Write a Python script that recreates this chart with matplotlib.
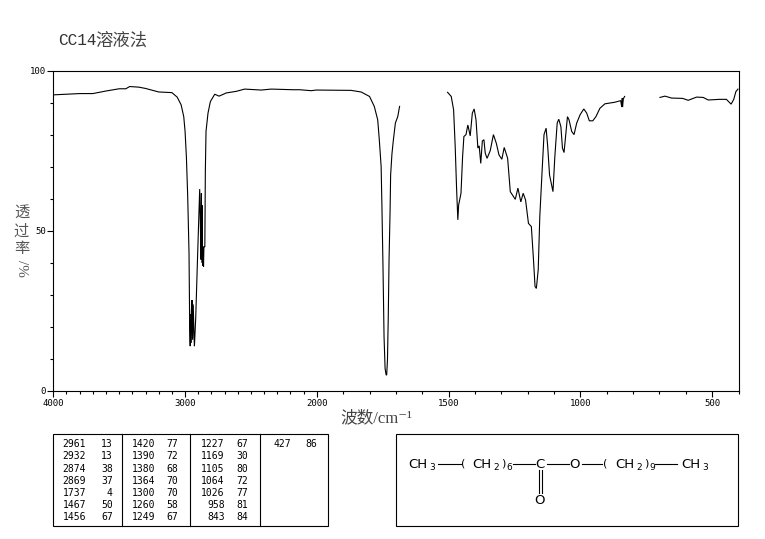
import matplotlib
matplotlib.use("Agg")
import matplotlib.pyplot as plt
import numpy as np
from matplotlib.patches import Rectangle

# --------------------------
# DATA
# --------------------------
# first piece of the trace, 4000 to 1686 cm-1
wn_a = [4000, 3900, 3800, 3700, 3600, 3500, 3450, 3420, 3350, 3300, 3200, 3100, 3060, 3030,
        3010, 3000, 2990, 2980, 2970, 2965, 2961, 2958, 2956, 2952, 2947, 2943, 2938, 2932, 2929,
        2919, 2909, 2899, 2889, 2884, 2879, 2876, 2874, 2872, 2870, 2868, 2866, 2863, 2860,
        2857, 2854, 2850, 2846, 2841, 2826, 2808, 2775, 2742, 2687, 2611, 2548, 2422, 2346,
        2182, 2130, 2043, 2005, 1870, 1832, 1800, 1782, 1769, 1763, 1756, 1753, 1749, 1745,
        1741, 1737, 1735, 1732, 1729, 1726, 1722, 1720, 1715, 1710, 1702, 1693, 1686]
t_a = [92.4, 92.6, 92.8, 92.8, 93.6, 94.3, 94.3, 95.0, 94.8, 94.4, 93.3, 93.1, 91.7, 89.3,
       85.6, 81.0, 73.1, 60.7, 43.0, 20.0, 14.0, 24.0, 15.0, 25.0, 28.4, 16.0, 27.0, 17.0, 14.0,
       23.0, 36.7, 50.0, 63.0, 52.0, 41.0, 61.7, 42.0, 58.0, 40.0, 45.0, 39.0, 45.0, 38.8,
       45.0, 45.0, 45.0, 69.0, 81.0, 86.7, 90.3, 92.6, 92.0, 93.0, 93.5, 94.2, 93.9, 94.2,
       94.0, 94.0, 93.7, 93.9, 93.8, 93.3, 91.9, 88.8, 84.6, 78.4, 70.0, 57.5, 38.8, 17.0,
       7.0, 5.0, 5.0, 9.7, 23.0, 41.0, 56.5, 67.4, 74.0, 78.0, 83.6, 85.6, 88.8]

# second piece, 1504 to 832 cm-1
wn_b = [1504, 1490, 1481, 1475, 1470, 1465, 1462, 1453, 1447, 1442, 1434, 1427, 1418, 1410,
        1403, 1396, 1389, 1384, 1378, 1372, 1366, 1361, 1354, 1342, 1330, 1319, 1309, 1298,
        1289, 1276, 1266, 1247, 1237, 1226, 1217, 1208, 1197, 1186, 1178, 1172, 1167, 1160,
        1154, 1145, 1138, 1130, 1124, 1117, 1104, 1097, 1088, 1082, 1074, 1068, 1062, 1055,
        1049, 1043, 1033, 1024, 1014, 1001, 987, 976, 966, 953, 941, 926, 907, 869, 847,
        843, 841, 840, 837, 832]
t_b = [93.2, 91.9, 87.7, 76.3, 63.8, 53.4, 58.0, 61.7, 73.0, 79.4, 80.0, 83.0, 79.6, 86.7,
       88.0, 84.6, 75.8, 76.5, 71.0, 78.0, 78.4, 74.2, 72.6, 75.0, 80.0, 77.3, 73.7, 72.3,
       76.0, 72.6, 62.2, 59.8, 63.3, 59.0, 61.7, 59.6, 52.3, 51.3, 41.0, 32.6, 32.0, 37.8,
       54.4, 69.0, 80.0, 82.0, 76.3, 67.4, 62.2, 73.0, 83.6, 84.8, 82.5, 75.8, 74.4, 80.4,
       85.6, 84.6, 81.0, 80.0, 83.6, 86.2, 88.0, 86.7, 84.3, 84.3, 85.6, 88.2, 89.6, 90.1, 90.6,
       88.6, 91.4, 88.6, 91.2, 91.9]

# third piece, 698 to 402 cm-1
wn_c = [698, 679, 654, 612, 591, 559, 534, 515, 471, 446, 428, 418, 410, 402]
t_c = [91.6, 92.0, 91.4, 91.3, 90.7, 91.7, 91.6, 90.8, 91.0, 91.0, 89.5, 91.0, 93.4, 94.2]

x_major = [4000, 3000, 2000, 1500, 1000, 500]
x_minor = [3900, 3800, 3700, 3600, 3500, 3400, 3300, 3200, 3100, 2900, 2800, 2700, 2600, 2500,
           2400, 2300, 2200, 2100, 1900, 1800, 1700, 1600, 1400, 1300, 1200, 1100, 900, 800,
           700, 600, 400]
y_major = [0, 50, 100]
y_minor = [10, 20, 30, 40, 60, 70, 80, 90]

# peak table, one list per column
table_wn = [["2961", "2932", "2874", "2869", "1737", "1467", "1456"],
            ["1420", "1390", "1380", "1364", "1300", "1260", "1249"],
            ["1227", "1169", "1105", "1064", "1026", "958", "843"],
            ["427"]]
table_t = [["13", "13", "38", "37", "4", "50", "67"],
           ["77", "72", "68", "70", "70", "58", "67"],
           ["67", "30", "80", "72", "77", "81", "84"],
           ["86"]]

# --------------------------
# HELPERS
# --------------------------
W, H = 765, 539
MONO = "DejaVu Sans Mono"
GRAY = "#555555"
LW = 0.8


def fx(px):
    return px / W


def fy(py):
    return 1 - py / H


# the x axis is twice as stretched below 2000 cm-1
def forward(w):
    w = np.asarray(w, dtype=float)
    return np.where(w >= 2000, w + 2000, 2 * w)


def inverse(v):
    v = np.asarray(v, dtype=float)
    return np.where(v >= 4000, v - 2000, v / 2)


# --------------------------
# FIGURE
# --------------------------
plt.rcParams["font.family"] = ["Noto Sans CJK SC", "DejaVu Sans"]
fig = plt.figure(figsize=(W / 100, H / 100), dpi=100, facecolor="white")

left, right, top, bottom = 53.3, 738.5, 70.5, 391
ax = fig.add_axes([fx(left), fy(bottom), (right - left) / W, (bottom - top) / H])
ax.set_xscale("function", functions=(forward, inverse))
ax.set_xlim(4000, 400)
ax.set_ylim(0, 100)

for xs, ys in [(wn_a, t_a), (wn_b, t_b), (wn_c, t_c)]:
    ax.plot(xs, ys, color="black", lw=LW, solid_joinstyle="miter")

ax.set_xticks(x_major)
ax.set_xticks(x_minor, minor=True)
ax.set_yticks(y_major)
ax.set_yticks(y_minor, minor=True)
ax.set_xticklabels([str(v) for v in x_major], family=MONO, fontsize=6.5)
ax.set_yticklabels([str(v) for v in y_major], family=MONO, fontsize=6.5)
ax.tick_params(which="major", length=4, width=LW, pad=1.5)
ax.tick_params(which="minor", length=2.5, width=LW)
for spine in ax.spines.values():
    spine.set_linewidth(LW)

fig.text(fx(58), fy(40.5), "CC14", family="Liberation Mono", fontsize=11.5, color="#333333",
         va="center", ha="left")
fig.text(fx(95), fy(40.5), "溶液法", fontsize=12.5, color="#444444", va="center", ha="left")
fig.text(fx(376), fy(418), "波数/cm⁻¹", family=["Liberation Serif", "Noto Sans CJK SC", "DejaVu Sans"],
         fontsize=12, color="#444444", va="center", ha="center")
for ch, py in zip("透过率", [212, 231, 249]):
    fig.text(fx(21.5), fy(py), ch, fontsize=11, color=GRAY, ha="center", va="center")
fig.text(fx(21.5), fy(268), "/%", family="Liberation Serif", fontsize=11, color=GRAY,
         rotation=270, ha="center", va="center")

# overlay in pixel coordinates for the two boxes below the plot
over = fig.add_axes([0, 0, 1, 1], facecolor="none")
over.set_xlim(0, W)
over.set_ylim(H, 0)
over.axis("off")

over.add_patch(Rectangle((53.3, 434.3), 274.4, 91.7, fill=False, ec="black", lw=LW))
for px in [122.3, 190.3, 259.7]:
    over.plot([px, px], [434.3, 526], color="black", lw=LW)

row_y = [444, 456, 468.5, 480.5, 492.5, 505, 517]
wn_right = [86, 155, 224.7, 290.7]
t_right = [112.7, 178, 248, 316.7]
for col in range(4):
    for row in range(len(table_wn[col])):
        over.text(wn_right[col], row_y[row], table_wn[col][row], family=MONO, fontsize=7,
                  ha="right", va="center")
        over.text(t_right[col], row_y[row], table_t[col][row], family=MONO, fontsize=7,
                  ha="right", va="center")

# structure box
over.add_patch(Rectangle((396, 434.3), 342.3, 91.7, fill=False, ec="black", lw=LW))
for x0, x1 in [(437.7, 461), (513, 535), (547, 569), (582, 602), (655, 677)]:
    over.plot([x0, x1], [464, 464], color="black", lw=LW)
over.plot([538.7, 538.7], [470, 493], color="black", lw=LW)
over.plot([541.7, 541.7], [470, 493], color="black", lw=LW)


def chem(px, py, s, size=9.5):
    over.text(px, py, s, family="DejaVu Sans", fontsize=size, ha="center", va="center")


chem(418, 464, "CH")
chem(432, 467, "3", 6.5)
chem(463, 463, "(", 8)
chem(482, 464, "CH")
chem(496, 467, "2", 6.5)
chem(503, 463, ")", 8)
chem(509, 468, "6", 6.5)
chem(540, 464, "C")
chem(575, 464, "O")
chem(540, 500, "O")
chem(605, 463, "(", 8)
chem(625, 464, "CH")
chem(639, 467, "2", 6.5)
chem(646, 463, ")", 8)
chem(652, 468, "9", 6.5)
chem(691, 464, "CH")
chem(705, 467, "3", 6.5)

# --------------------------
# SAVE
# --------------------------
fig.savefig("out.png", dpi=100)
